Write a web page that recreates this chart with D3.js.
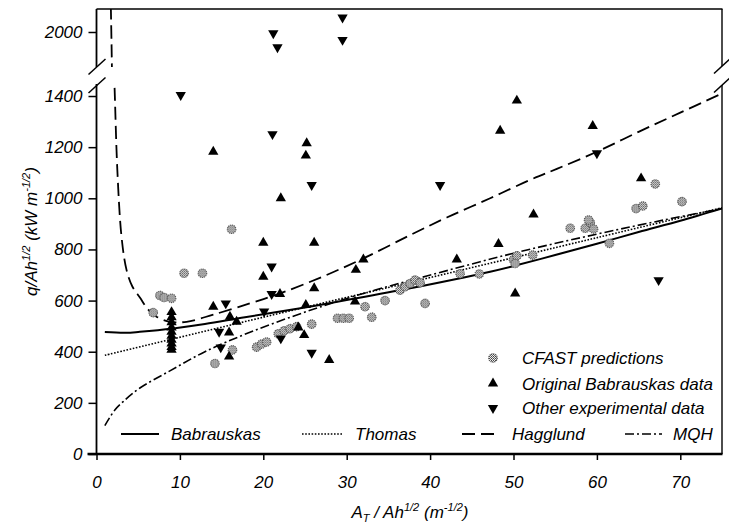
<!DOCTYPE html>
<html>
<head>
<meta charset="utf-8">
<script src="https://cdn.jsdelivr.net/npm/d3@7"></script>
<style>
  body { margin: 0; background: #fff; }
  svg { display: block; font-family: "Liberation Sans", Arial, Helvetica, sans-serif; font-style: italic; }
</style>
</head>
<body>
<svg id="chart" width="729" height="526"></svg>
<script>
// ---- tick values ----
const xTicks = [0, 10, 20, 30, 40, 50, 60, 70];
const yTicksLow = [0, 200, 400, 600, 800, 1000, 1200, 1400];
const yTicksHigh = [2000];

// ---- measured points [A_T/Ah^1/2, q/Ah^1/2] ----
const cfastPredictions = [
  [6.8, 553], [7.6, 620], [8.1, 612], [9.0, 609], [10.5, 707], [12.7, 707],
  [16.2, 879], [16.3, 407], [14.2, 354], [19.2, 418], [19.8, 430], [20.4, 438],
  [21.8, 470], [22.5, 482], [23.2, 490], [24.0, 498], [25.8, 508],
  [28.9, 531], [29.6, 531], [30.3, 531], [32.2, 576], [33.0, 535], [34.6, 600],
  [36.4, 641], [37.0, 654], [37.6, 667], [38.2, 680], [38.8, 670], [39.4, 589],
  [43.6, 705], [45.9, 704], [50.0, 760], [50.4, 775], [50.2, 745], [52.3, 778],
  [56.8, 883], [58.6, 883], [59.2, 905], [59.6, 880], [59.0, 915], [61.5, 824],
  [64.7, 960], [65.5, 970], [67.0, 1056], [70.2, 987]
];
const babrauskasData = [
  [9.0, 555], [9.0, 535], [9.0, 515], [9.0, 495], [9.0, 478], [9.0, 462],
  [9.0, 447], [9.0, 432], [9.0, 418], [9.0, 408],
  [14.0, 1182], [14.0, 576], [16.0, 537], [16.8, 517], [15.9, 475], [15.9, 381],
  [20.0, 826], [20.0, 693], [22.1, 1000], [22.0, 626], [24.2, 495], [24.9, 465],
  [25.2, 1215], [25.1, 1167], [25.1, 583], [26.1, 826], [26.1, 648], [27.9, 368],
  [31.1, 720], [32.0, 761], [31.0, 596], [43.2, 761], [48.2, 821], [48.4, 1264],
  [50.2, 628], [50.4, 1382], [52.4, 937], [59.5, 1283], [65.3, 1078]
];
const otherData = [
  [10.1, 1404], [14.7, 478], [14.9, 417], [15.5, 589], [20.1, 557], [21.0, 733],
  [21.0, 626], [21.1, 1251], [21.2, 1995], [21.7, 1940], [22.1, 452], [25.8, 1052],
  [25.8, 396], [29.5, 2057], [29.5, 1969], [41.2, 1052], [60.0, 1176], [67.4, 680]
];

// ---- correlation curves ----
const babrauskasCurve = [
  [1.0, 477], [3.5, 474], [5.2, 478], [9.2, 491], [13, 508], [17.8, 535], [25, 573],
  [30, 602], [37.6, 648], [47.2, 713], [50, 735], [55, 778], [60, 822], [65, 868],
  [70, 912], [75, 960]
];
const thomasCurve = [
  [1.0, 386], [20, 535], [40, 690], [60, 846], [75, 963]
];
const hagglundCurve = [
  [1.72, 2100], [1.8, 1960], [1.9, 1760], [2.05, 1560], [2.2, 1400], [2.5, 1110],
  [3.0, 850], [3.6, 720], [4.3, 655], [5.2, 612], [6.2, 565], [7.2, 537], [8.8, 517],
  [10.8, 517], [14, 545], [18.4, 589], [22, 628], [27, 692], [32, 765], [37.6, 856],
  [42, 925], [47.2, 1000], [52, 1072], [55.2, 1115], [60, 1182], [65, 1260],
  [70, 1335], [75, 1410]
];
const mqhCurve = [
  [1.0, 111], [2.2, 172], [3.2, 205], [5.2, 258], [8.8, 325], [13, 400], [18.4, 476],
  [25, 555], [32, 628], [39.6, 696], [50, 785], [60, 860], [68, 915], [75, 960]
];

// ---- layout ----
const L = 96.5, R = 722, B = 454, T = 9;
const lowTop = 84, highBottom = 67;

const svg = d3.select("#chart");

const x = d3.scaleLinear().domain([0, 75]).range([L, R]);
const yLow = d3.scaleLinear().domain([0, 1447]).range([B, lowTop]);
const yHigh = d3.scaleLinear().domain([1863, 2090]).range([highBottom, T]);
const yOf = v => (v > 1650 ? yHigh(v) : yLow(v));

const defs = svg.append("defs");
defs.append("clipPath").attr("id", "clipLow")
  .append("rect").attr("x", L).attr("y", lowTop).attr("width", R - L).attr("height", B - lowTop);
defs.append("clipPath").attr("id", "clipHigh")
  .append("rect").attr("x", L).attr("y", T).attr("width", R - L).attr("height", highBottom - T);
const pat = defs.append("pattern").attr("id", "dither")
  .attr("width", 2).attr("height", 2).attr("patternUnits", "userSpaceOnUse");
pat.append("rect").attr("width", 2).attr("height", 2).attr("fill", "#eee");
pat.append("rect").attr("width", 1).attr("height", 1).attr("fill", "#444");
pat.append("rect").attr("x", 1).attr("y", 1).attr("width", 1).attr("height", 1).attr("fill", "#666");

// ---- frame (top and right, broken on the right) ----
const frame = svg.append("g").attr("stroke", "#000").attr("fill", "none");
frame.append("line").attr("x1", L).attr("x2", R + 0.5).attr("y1", T).attr("y2", T).attr("stroke-width", 1.6);
frame.append("line").attr("x1", R).attr("x2", R).attr("y1", T).attr("y2", highBottom - 1).attr("stroke-width", 1.4);
frame.append("line").attr("x1", R).attr("x2", R).attr("y1", lowTop + 1).attr("y2", B).attr("stroke-width", 1.4);

// ---- curves ----
const styles = {
  babrauskas: { dash: null, width: 2 },
  thomas: { dash: "1.6,1.6", width: 1.6 },
  hagglund: { dash: "13,6", width: 1.8 },
  mqh: { dash: "9,3,2,3", width: 1.6 }
};
function drawCurve(data, st) {
  [["clipLow", yLow], ["clipHigh", yHigh]].forEach(([clip, ys]) => {
    const line = d3.line().x(d => x(d[0])).y(d => ys(d[1])).curve(d3.curveCatmullRom.alpha(0.5));
    svg.append("path").datum(data)
      .attr("clip-path", `url(#${clip})`)
      .attr("d", line)
      .attr("fill", "none").attr("stroke", "#000")
      .attr("stroke-width", st.width)
      .attr("stroke-dasharray", st.dash);
  });
}
drawCurve(babrauskasCurve, styles.babrauskas);
drawCurve(thomasCurve, styles.thomas);
drawCurve(mqhCurve, styles.mqh);
drawCurve(hagglundCurve, styles.hagglund);

// ---- markers ----
const triUp = d3.symbol(d3.symbolTriangle, 46)();
function cfastMark(g) {
  g.append("circle").attr("r", 4.3)
    .attr("fill", "url(#dither)").attr("stroke", "#555")
    .attr("stroke-width", 1.1).attr("stroke-dasharray", "1.2,0.8");
}
svg.append("g").selectAll("g").data(cfastPredictions).join("g")
  .attr("transform", d => `translate(${x(d[0])},${yOf(d[1])})`)
  .each(function () { cfastMark(d3.select(this)); });
svg.append("g").selectAll("path").data(babrauskasData).join("path")
  .attr("d", triUp).attr("fill", "#000")
  .attr("transform", d => `translate(${x(d[0])},${yOf(d[1])})`);
svg.append("g").selectAll("path").data(otherData).join("path")
  .attr("d", triUp).attr("fill", "#000")
  .attr("transform", d => `translate(${x(d[0])},${yOf(d[1])}) rotate(180)`);

// ---- axes ----
const fs = 17;
const fmt = d3.format("d");
const xAxis = svg.append("g").attr("transform", `translate(0,${B})`)
  .call(d3.axisBottom(x).tickValues(xTicks).tickFormat(fmt).tickSize(6).tickPadding(16));
const yAxisLow = svg.append("g").attr("transform", `translate(${L},0)`)
  .call(d3.axisLeft(yLow).tickValues(yTicksLow).tickFormat(fmt).tickSize(8).tickPadding(6));
const yAxisHigh = svg.append("g").attr("transform", `translate(${L},0)`)
  .call(d3.axisLeft(yHigh).tickValues(yTicksHigh).tickFormat(fmt).tickSize(8).tickPadding(6));
[xAxis, yAxisLow, yAxisHigh].forEach(a => {
  a.select(".domain").remove();
  a.selectAll("line").attr("stroke", "#000").attr("stroke-width", 1.5);
  a.selectAll("text").attr("font-size", fs).attr("font-family", null).attr("fill", "#000");
});

const axes = svg.append("g").attr("stroke", "#000").attr("fill", "none");
axes.append("line").attr("x1", L - 9).attr("x2", R + 0.5).attr("y1", B).attr("y2", B).attr("stroke-width", 2.4);
axes.append("line").attr("x1", L).attr("x2", L).attr("y1", T).attr("y2", highBottom).attr("stroke-width", 1.8);
axes.append("line").attr("x1", L).attr("x2", L).attr("y1", lowTop).attr("y2", B).attr("stroke-width", 1.8);
// break marks on both vertical edges
const brk = [[L, highBottom], [L, lowTop + 1.5], [R, highBottom - 1], [R, lowTop + 1]];
brk.forEach(([cx, cy]) => {
  axes.append("line").attr("x1", cx - 8).attr("y1", cy + 7.5).attr("x2", cx + 9).attr("y2", cy - 8)
    .attr("stroke-width", 1.5);
});

// ---- axis titles ----
const yTitle = svg.append("text")
  .attr("transform", `translate(37,${(T + B) / 2}) rotate(-90)`)
  .attr("text-anchor", "middle").attr("font-size", fs);
yTitle.append("tspan").text("q/Ah");
yTitle.append("tspan").attr("font-size", fs * 0.65).attr("dy", -7).text("1/2");
yTitle.append("tspan").attr("dy", 7).text(" (kW m");
yTitle.append("tspan").attr("font-size", fs * 0.65).attr("dy", -7).text("-1/2");
yTitle.append("tspan").attr("dy", 7).text(")");

const xTitle = svg.append("text")
  .attr("x", 410).attr("y", 518)
  .attr("text-anchor", "middle").attr("font-size", fs);
xTitle.append("tspan").text("A");
xTitle.append("tspan").attr("font-size", fs * 0.65).attr("dy", 4).text("T");
xTitle.append("tspan").attr("dy", -4).text(" / Ah");
xTitle.append("tspan").attr("font-size", fs * 0.65).attr("dy", -7).text("1/2");
xTitle.append("tspan").attr("dy", 7).text(" (m");
xTitle.append("tspan").attr("font-size", fs * 0.65).attr("dy", -7).text("-1/2");
xTitle.append("tspan").attr("dy", 7).text(")");

// ---- legend: markers ----
const legendMarks = [
  { label: "CFAST predictions", kind: "cfast", y: 358 },
  { label: "Original Babrauskas data", kind: "up", y: 383.5 },
  { label: "Other experimental data", kind: "down", y: 408 }
];
legendMarks.forEach(d => {
  const g = svg.append("g").attr("transform", `translate(493,${d.y})`);
  if (d.kind === "cfast") cfastMark(g);
  else g.append("path").attr("d", triUp).attr("fill", "#000")
    .attr("transform", d.kind === "down" ? "rotate(180)" : null);
  svg.append("text").attr("x", 522).attr("y", d.y + 6)
    .attr("font-size", fs).text(d.label);
});

// ---- legend: lines ----
const legendLines = [
  { label: "Babrauskas", st: styles.babrauskas, x1: 121, x2: 159, tx: 171 },
  { label: "Thomas", st: styles.thomas, x1: 302, x2: 342, tx: 355 },
  { label: "Hagglund", st: styles.hagglund, x1: 462, x2: 498, tx: 512 },
  { label: "MQH", st: styles.mqh, x1: 625, x2: 662, tx: 673 }
];
legendLines.forEach(d => {
  svg.append("line").attr("x1", d.x1).attr("x2", d.x2).attr("y1", 434).attr("y2", 434)
    .attr("stroke", "#000").attr("stroke-width", d.st.width)
    .attr("stroke-dasharray", d.st.dash);
  svg.append("text").attr("x", d.tx).attr("y", 440).attr("font-size", fs).text(d.label);
});
</script>
</body>
</html>
